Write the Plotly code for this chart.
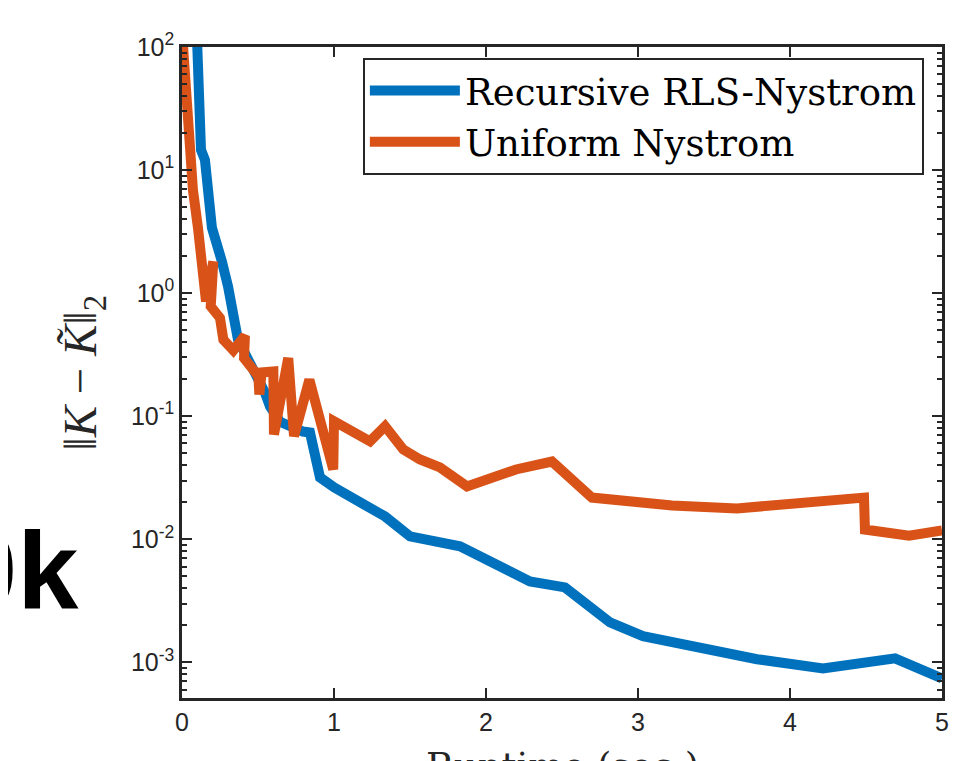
import plotly.graph_objects as go

# ---------------- data ----------------
rls_x = [0.099, 0.125, 0.151, 0.171, 0.197, 0.263, 0.303, 0.368, 0.447, 0.513,
         0.546, 0.579, 0.645, 0.796, 0.842, 0.908, 1.0, 1.336, 1.5, 1.829,
         2.092, 2.289, 2.520, 2.816, 3.033, 3.428, 3.783, 4.217, 4.691, 5.0]
rls_y = [114, 14.6, 12.1, 6.9, 3.4, 1.8, 1.13, 0.42, 0.272, 0.198,
         0.155, 0.120, 0.090, 0.075, 0.0736, 0.0318, 0.0264, 0.0153, 0.01054, 0.00875,
         0.00602, 0.00454, 0.00406, 0.00211, 0.00163, 0.00128, 0.00106, 0.000893, 0.001076, 0.00074]

uni_x = [0.005, 0.039, 0.072, 0.105, 0.130, 0.158, 0.206, 0.189, 0.25, 0.272,
         0.338, 0.414, 0.408, 0.502, 0.509, 0.524, 0.601, 0.605, 0.699, 0.737,
         0.838, 0.995, 1.0, 1.237, 1.336, 1.456, 1.566, 1.697, 1.875, 2.197,
         2.434, 2.697, 3.224, 3.651, 4.487, 4.493, 4.783, 5.0]
uni_y = [110, 17.6, 6.9, 3.40, 1.65, 0.857, 1.81, 0.780, 0.628, 0.419,
         0.343, 0.451, 0.297, 0.211, 0.150, 0.227, 0.231, 0.0710, 0.297, 0.0687,
         0.198, 0.0369, 0.0910, 0.0625, 0.0828, 0.0536, 0.0445, 0.0383, 0.0269, 0.0369,
         0.0428, 0.0218, 0.0188, 0.0178, 0.0218, 0.0120, 0.0107, 0.0118]

series_names = ["Recursive RLS-Nystrom", "Uniform Nystrom"]
x_ticks = [0, 1, 2, 3, 4, 5]
y_exponents = [-3, -2, -1, 0, 1, 2]

# ---------------- styling ----------------
BLUE = "#0072BD"
ORANGE = "#D95319"
AX = "#262626"
TICKFONT = "Liberation Sans, Arial, sans-serif"
SERIF = "DejaVu Serif, Liberation Serif, serif"
SERIF2 = "Liberation Serif, DejaVu Serif, serif"

y_tickvals = [10.0 ** e for e in y_exponents]
y_ticktext = ["10<sup>%d</sup>" % e for e in y_exponents]
minor_vals = [m * 10.0 ** e for e in range(-4, 2) for m in range(2, 10)]

fig = go.Figure()
fig.add_trace(go.Scatter(x=rls_x, y=rls_y, mode="lines", name=series_names[0],
                         line=dict(color=BLUE, width=10)))
fig.add_trace(go.Scatter(x=uni_x, y=uni_y, mode="lines", name=series_names[1],
                         line=dict(color=ORANGE, width=10)))

# page body has an 8px margin: figure is made 8px smaller so it fits the window
fig.update_layout(
    width=961, height=753,
    margin=dict(l=174, r=27, t=39, b=63),
    paper_bgcolor="white", plot_bgcolor="white",
    showlegend=True,
    legend=dict(x=0.238, y=0.983, xanchor="left", yanchor="top",
                bgcolor="white", bordercolor=AX, borderwidth=2,
                font=dict(family=SERIF, size=37, color="black"),
                itemwidth=90, tracegroupgap=0),
    xaxis=dict(range=[0, 5], tickvals=x_ticks, ticks="inside", ticklen=10,
               tickwidth=2, tickcolor=AX, showline=True, linecolor=AX,
               linewidth=2.5, mirror="allticks", showgrid=False, zeroline=False,
               tickfont=dict(family=TICKFONT, size=25, color=AX)),
    yaxis=dict(type="log", range=[-3.29, 2], tickvals=y_tickvals,
               ticktext=y_ticktext, ticks="inside", ticklen=10, tickwidth=2,
               tickcolor=AX, showline=True, linecolor=AX, linewidth=2.5,
               mirror="allticks", showgrid=False, zeroline=False,
               tickfont=dict(family=TICKFONT, size=25, color=AX),
               minor=dict(tickvals=minor_vals, ticks="inside", ticklen=5,
                          tickwidth=2, tickcolor=AX, showgrid=False)),
    annotations=[
        dict(text="‖<i>K</i> − <i>K̃</i>‖<sub>2</sub>", xref="paper", yref="paper",
             x=-0.129, y=0.5, xanchor="center", yanchor="middle",
             textangle=-90, showarrow=False,
             font=dict(family=SERIF2, size=47, color=AX)),
        dict(text="Runtime (sec.)", xref="paper", yref="paper",
             x=0.5, y=-0.069, xanchor="center", yanchor="top",
             showarrow=False, font=dict(family=SERIF, size=37, color=AX)),
        dict(text="<b>0k</b>", xref="paper", yref="paper",
             x=-0.1324, y=0.100, xanchor="right", yanchor="bottom",
             showarrow=False,
             font=dict(family="Liberation Sans, Arial, sans-serif",
                       size=110, color="black")),
    ],
)

fig.write_html("out.html")
